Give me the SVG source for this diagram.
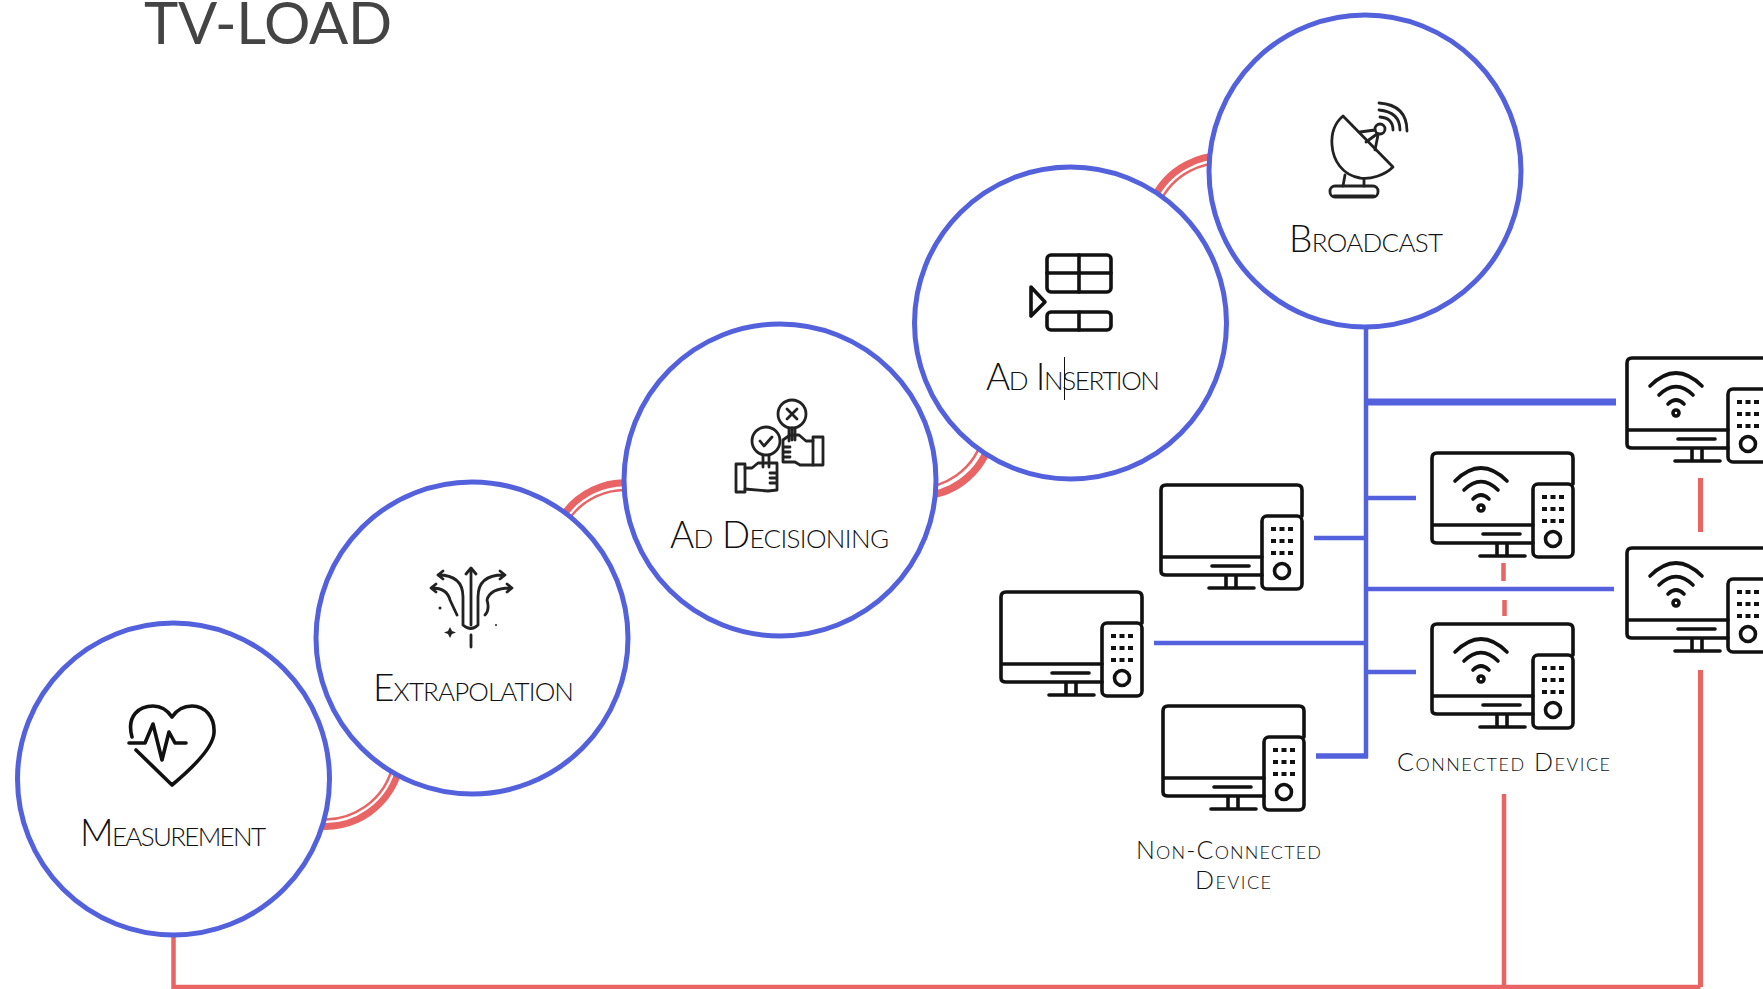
<svg xmlns="http://www.w3.org/2000/svg" width="1763" height="989" viewBox="0 0 1763 989">
<style>
.circle{fill:#fff;stroke:#5361dd;stroke-width:5}
.blue{stroke:#5361dd;fill:none}
.red{stroke:#e96464;fill:none}
.ic{fill:none;stroke:#111;stroke-width:3.600;stroke-linecap:round;stroke-linejoin:round}
.ict{fill:none;stroke:#222;stroke-width:2.800;stroke-linecap:round;stroke-linejoin:round}
text{font-family:"Lato","Liberation Sans",sans-serif;fill:#111}
.lbl{font-size:37px;font-variant:small-caps;font-weight:300}
.sm{font-size:25px;font-variant:small-caps;font-weight:300}
.title{font-size:58px;font-weight:400;fill:#444}
</style>
<defs>
<g id="dev">
<path class="ic" d="M102 91H6Q1 91 1 87V6Q1 1 6 1H137Q142 1 142 6V32M1 73H102M52 82H89M66 91V104M76 91V104M49 104H94"/>
<rect class="ic" x="102" y="32" width="40" height="73" rx="5"/>
<circle class="ic" cx="122" cy="87" r="7.500"/>
<g fill="#111"><rect x="111" y="43" width="5" height="4"/><rect x="119.500" y="43" width="5" height="4"/><rect x="128" y="43" width="5" height="4"/><rect x="111" y="55" width="5" height="4"/><rect x="119.500" y="55" width="5" height="4"/><rect x="128" y="55" width="5" height="4"/><rect x="111" y="67" width="5" height="4"/><rect x="119.500" y="67" width="5" height="4"/><rect x="128" y="67" width="5" height="4"/></g>
</g>
<g id="wifi">
<path class="ic" d="M24 29Q50 3 76 29M33 38Q50 21 67 38M42 47Q50 39 58 47"/>
<circle class="ic" cx="50" cy="56" r="3"/>
</g>
</defs>

<g id="connectors">
<path class="red" stroke-width="7" d="M312 825.400A76.500 76.500 0 0 0 400.300 763.300"/>
<path class="red" stroke-width="2.500" d="M313 818.400A69.500 69.500 0 0 0 393.400 762"/>
<path class="red" stroke-width="7" d="M560 520.500A75 75 0 0 1 638 484"/>
<path class="red" stroke-width="2.500" d="M566 524A68 68 0 0 1 636.800 491"/>
<path class="red" stroke-width="7.500" d="M905 495A75 75 0 0 0 992 434"/>
<path class="red" stroke-width="2.500" d="M906 486.500A66.500 66.500 0 0 0 983.500 432.500"/>
<path class="red" stroke-width="7" d="M1153 200A76 76 0 0 1 1235 157"/>
<path class="red" stroke-width="2.500" d="M1159.500 203A69 69 0 0 1 1234 164"/>
<path class="red" stroke-width="4.500" d="M173.500 935V987H1700.500"/>
<path class="red" stroke-width="4.500" d="M1503.500 563V581M1504.500 600V616M1504 794V987"/>
<path class="red" stroke-width="5" d="M1700.500 478V532M1700.500 670V987"/>
<path class="blue" stroke-width="4.500" d="M1366 327V758"/>
<path class="blue" stroke-width="7" d="M1366 402H1616"/>
<path class="blue" stroke-width="4.500" d="M1366 498H1416M1314 538H1366M1366 589H1614M1154 643H1366M1366 672H1416"/>
<path class="blue" stroke-width="5.500" d="M1316 756H1368"/>
</g>

<text class="title" x="144" y="44" textLength="248" lengthAdjust="spacing">TV-LOAD</text>

<g id="measurement">
<circle class="circle" cx="173.500" cy="779" r="156"/>
<path class="ic" d="M132 737C126 715 140 706 153 706C162 706 168 711 172 717C176 711 183 706 192 706C205 706 215 717 214 733C213 748 190 770 172 785L136 750M129 743H145L153 724L162 760L169 732L175 743H186"/>
<text class="lbl" x="80" y="846" textLength="186" lengthAdjust="spacing">Measurement</text>
</g>

<g id="extrapolation">
<circle class="circle" cx="472" cy="638" r="156"/>
<path class="ict" d="M471 570V625M471 635V647M466 574L471 568L476 574M478 625V597Q478 575 503 575M463 625V597Q463 575 438 575M463 625Q471 632 478 625M485 615Q490 610 487 600Q490 588 511 588M457 615L450 600Q447 588 432 588M500 571L505 575L500 579M443 571L438 575L443 579M507 584L512 588L507 592M436 584L431 588L436 592"/>
<circle cx="440" cy="608" r="1.500" fill="#222"/><circle cx="496" cy="625" r="1" fill="#222"/>
<path d="M450 627L452 631L456 632.500L452 634L450 638L448 634L444 632.500L448 631Z" fill="#222"/>
<text class="lbl" x="373" y="701" textLength="201" lengthAdjust="spacing">Extrapolation</text>
</g>

<g id="ad-decisioning">
<circle class="circle" cx="780" cy="480" r="156"/>
<g class="ict">
<circle cx="792" cy="414" r="14"/>
<path d="M787 409L797 419M797 409L787 419"/>
<circle cx="766" cy="441" r="14"/>
<path d="M760 441L764 446L772 437"/>
<path d="M792 428V440M789 428V441M795 428V440M763 455V467M769 455V467"/>
<rect x="813" y="437" width="10" height="28"/>
<rect x="736" y="464" width="9" height="28"/>
<path d="M813 441H806L799 435H790L783 440V462H795L800 465H813M783 447H790M783 452H790M783 457H790"/>
<path d="M745 468H752L758 463H777V490L768 491L745 489M770 473H777M770 478H777M770 483H777"/>
</g>
<text class="lbl" x="670" y="548" textLength="219" lengthAdjust="spacing">Ad Decisioning</text>
</g>

<g id="ad-insertion">
<circle class="circle" cx="1070.500" cy="323" r="156"/>
<g class="ic">
<rect x="1047" y="255" width="64" height="37" rx="4"/>
<path d="M1079 255V292M1047 273H1111"/>
<rect x="1047" y="312" width="64" height="18" rx="4"/>
<path d="M1079 312V330"/>
<path d="M1031 287L1045 302L1031 316Z"/>
</g>
<text class="lbl" x="986" y="390" textLength="174" lengthAdjust="spacing">Ad Insertion</text>
<path d="M1064.500 357V400" stroke="#111" stroke-width="1" fill="none"/>
</g>

<g id="broadcast">
<circle class="circle" cx="1365" cy="171" r="156"/>
<g class="ict">
<path d="M1343 116L1393 167C1385 175 1370 180 1360 178C1342 175 1333 160 1332 145C1331 132 1336 122 1343 116Z"/>
<circle cx="1380" cy="129" r="5"/>
<path d="M1360 132L1375 130M1366 142L1377 134M1378 135L1375 150M1380 117Q1393 118 1393 130M1379 110Q1400 112 1400 130M1379 103Q1407 105 1407 131"/>
<rect x="1330" y="186" width="48" height="11" rx="5"/>
<path d="M1334 196H1374" stroke-width="3"/>
<path d="M1345 175L1343 186M1364 180V186"/>
</g>
<text class="lbl" x="1289" y="252" textLength="154" lengthAdjust="spacing">Broadcast</text>
</g>

<g id="non-connected-1"><use href="#dev" x="1160" y="484"/></g>
<g id="non-connected-2"><use href="#dev" x="1000" y="591"/></g>
<g id="non-connected-3"><use href="#dev" x="1162" y="705"/></g>
<g id="non-connected-label">
<text class="sm" x="1136" y="859" textLength="185" lengthAdjust="spacing">Non-Connected</text>
<text class="sm" x="1195" y="889" textLength="76" lengthAdjust="spacing">Device</text>
</g>
<g id="connected-1"><use href="#dev" x="1431" y="452"/><use href="#wifi" x="1431" y="452"/></g>
<g id="connected-2"><use href="#dev" x="1431" y="623"/><use href="#wifi" x="1431" y="623"/></g>
<g id="connected-3"><use href="#dev" x="1626" y="357"/><use href="#wifi" x="1626" y="357"/></g>
<g id="connected-4"><use href="#dev" x="1626" y="547"/><use href="#wifi" x="1626" y="547"/></g>
<g id="connected-label">
<text class="sm" x="1397" y="771" textLength="213" lengthAdjust="spacing">Connected Device</text>
</g>
</svg>
